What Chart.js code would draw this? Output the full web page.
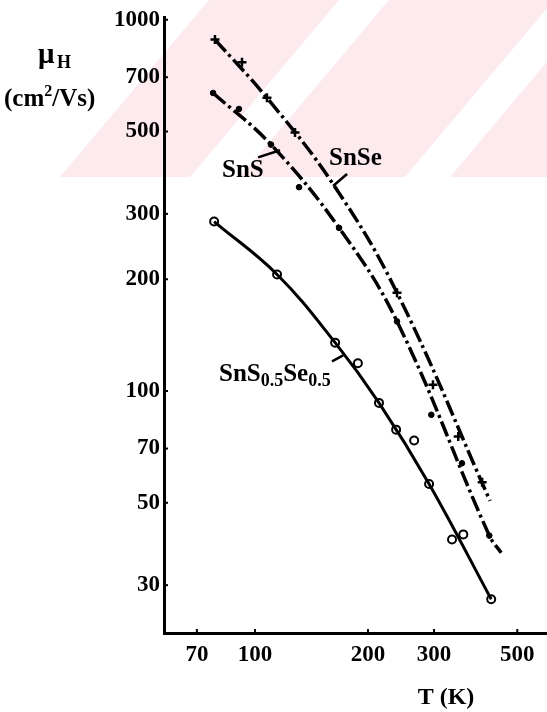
<!DOCTYPE html>
<html>
<head>
<meta charset="utf-8">
<script src="https://cdn.jsdelivr.net/npm/chart.js@4.4.1/dist/chart.umd.min.js"></script>
<style>
  html, body { margin: 0; padding: 0; background: #ffffff; }
  #wrap { width: 547px; height: 712px; position: relative; }
</style>
</head>
<body>
<div id="wrap"><canvas id="c" width="547" height="712"></canvas></div>
<script>
// ---- data (T in K, Hall mobility in cm^2/Vs) ----
// measured points (markers)
const snseT    = [78.2, 92.3, 107.6, 127.8, 239, 298, 348, 403];
const snseMu   = [884, 768, 616, 497, 184, 104, 75.4, 56.8];
const snsT     = [77.3, 90.6, 110.3, 131, 167.5, 239, 295, 356, 421];
const snsMu    = [635, 575, 461, 354, 275, 154, 86.3, 63.9, 40.8];
const mixT     = [77.8, 114.5, 163.5, 188, 214, 237.7, 265.5, 291, 335, 359, 426];
const mixMu    = [286, 206, 135, 118.8, 92.9, 78.7, 73.6, 56.2, 39.8, 41.1, 27.5];
// points read along the drawn (smoothed) curves
const snseLineT  = [78.2, 107.6, 161.4, 239, 423];
const snseLineMu = [884, 616, 361, 184, 50.6];
const snsLineT   = [77.3, 110.3, 167.5, 239, 421, 453];
const snsLineMu  = [635, 461, 275, 154, 40.8, 36.7];
const mixLineT   = [77.8, 114.5, 163.5, 214, 291, 426];
const mixLineMu  = [286, 206, 135, 92.9, 56.2, 27.5];
const xTicks  = [70, 100, 200, 300, 500];
const yTicks  = [30, 50, 70, 100, 200, 300, 500, 700, 1000];
const xRange  = [57.2, 600];
const yRange  = [22.3, 1012];

const SERIF = "'Liberation Serif', 'Times New Roman', Times, serif";
const toPts = (xs, ys) => xs.map((x, i) => ({ x: x, y: ys[i] }));

// background watermark (pink diagonal stripes in the top band)
const watermark = {
  id: 'watermark',
  beforeDraw(chart) {
    const ctx = chart.ctx;
    const W = chart.width, H = 177, S = 149;
    ctx.save();
    ctx.beginPath(); ctx.rect(0, 0, W, H); ctx.clip();
    ctx.fillStyle = '#fdeaee';
    ctx.fillRect(0, 0, W, H);
    ctx.fillStyle = '#ffffff';
    ctx.beginPath();
    ctx.moveTo(0, 0); ctx.lineTo(209, 0); ctx.lineTo(209 - S, H); ctx.lineTo(0, H); ctx.closePath(); ctx.fill();
    const bands = [[190, 240], [405, 450]];
    bands.forEach(b => {
      ctx.beginPath();
      ctx.moveTo(b[0], H); ctx.lineTo(b[1], H);
      ctx.lineTo(b[1] + S, 0); ctx.lineTo(b[0] + S, 0);
      ctx.closePath(); ctx.fill();
    });
    ctx.restore();
  }
};

function drawSub(ctx, parts, x, y) {
  let cx = x;
  parts.forEach(p => {
    ctx.font = 'bold ' + p[1] + 'px ' + SERIF;
    ctx.fillText(p[0], cx, y + p[2]);
    cx += ctx.measureText(p[0]).width;
  });
}

const decorations = {
  id: 'decorations',
  afterDraw(chart) {
    const ctx = chart.ctx;
    const xs = chart.scales.x, ys = chart.scales.y;
    const area = chart.chartArea;
    ctx.save();
    ctx.fillStyle = '#000';
    ctx.strokeStyle = '#000';
    ctx.textBaseline = 'alphabetic';
    ctx.textAlign = 'left';
    ctx.lineWidth = 2;
    yTicks.forEach(v => {
      const py = ys.getPixelForValue(v);
      ctx.beginPath(); ctx.moveTo(area.left, py); ctx.lineTo(area.left + 4, py); ctx.stroke();
    });
    xTicks.forEach(v => {
      const px = xs.getPixelForValue(v);
      ctx.beginPath(); ctx.moveTo(px, area.bottom); ctx.lineTo(px, area.bottom - 4); ctx.stroke();
    });
    // y-axis title
    ctx.font = 'bold 29px ' + SERIF;
    ctx.fillText('\u03bc', 38, 63);
    ctx.font = 'bold 18px ' + SERIF;
    ctx.fillText('H', 57, 68);
    drawSub(ctx, [['(cm', 25, 0], ['2', 16, -10], ['/Vs)', 25, 0]], 4, 106);
    // x-axis title
    ctx.font = 'bold 24px ' + SERIF;
    ctx.textAlign = 'center';
    ctx.fillText('T (K)', 446, 704);
    ctx.textAlign = 'left';
    // curve labels with leader lines (anchored in data units)
    const P = (t, m) => [xs.getPixelForValue(t), ys.getPixelForValue(m)];
    const leader = (t1, m1, t2, m2) => {
      const a = P(t1, m1), b = P(t2, m2);
      ctx.beginPath(); ctx.moveTo(a[0], a[1]); ctx.lineTo(b[0], b[1]); ctx.stroke();
    };
    ctx.lineWidth = 2.5;
    leader(175.9, 384, 161.4, 356.5);
    leader(101.9, 426, 116.6, 445);
    leader(160.4, 120.2, 171.7, 124.7);
    ctx.font = 'bold 25px ' + SERIF;
    ctx.fillText('SnSe', 329, 165);
    ctx.fillText('SnS', 222, 177);
    drawSub(ctx, [['SnS', 25, 0], ['0.5', 18, 5], ['Se', 25, 0], ['0.5', 18, 5]], 219, 381);
    ctx.restore();
  }
};

const lineDs = (label, xs, ys, dash, w) => ({
  label: label,
  data: toPts(xs, ys),
  showLine: true,
  tension: 0.4,
  borderColor: '#000',
  borderWidth: w,
  borderDash: dash,
  pointRadius: 0,
  pointHoverRadius: 0
});
const markDs = (label, xs, ys, style, r, bw, fill) => ({
  label: label,
  data: toPts(xs, ys),
  showLine: false,
  pointStyle: style,
  pointRadius: r,
  pointBorderWidth: bw,
  pointBorderColor: '#000',
  pointBackgroundColor: fill
});

new Chart(document.getElementById('c'), {
  type: 'scatter',
  data: {
    datasets: [
      lineDs('SnSe curve', snseLineT, snseLineMu, [16, 4, 3, 4], 3.5),
      lineDs('SnS curve', snsLineT, snsLineMu, [16, 4, 3, 4], 3.5),
      lineDs('SnS0.5Se0.5 curve', mixLineT, mixLineMu, [], 3),
      markDs('SnSe', snseT, snseMu, 'cross', 4.5, 2.5, '#000'),
      markDs('SnS', snsT, snsMu, 'circle', 2.8, 1, '#000'),
      markDs('SnS0.5Se0.5', mixT, mixMu, 'circle', 4, 2, '#fff')
    ]
  },
  options: {
    responsive: false,
    animation: false,
    layout: { autoPadding: false, padding: { top: 12, right: 0, bottom: 0, left: 0 } },
    plugins: { legend: { display: false }, tooltip: { enabled: false } },
    scales: {
      x: {
        type: 'logarithmic',
        min: xRange[0], max: xRange[1],
        afterBuildTicks: s => { s.ticks = xTicks.map(v => ({ value: v })); },
        afterFit: s => { s.height = 79; },
        grid: { display: true, drawOnChartArea: false, drawTicks: false },
        border: { display: true, color: '#000', width: 3 },
        ticks: {
          padding: 8,
          color: '#000',
          font: { family: SERIF, size: 23, weight: 'bold' },
          callback: v => String(v),
          maxRotation: 0, autoSkip: false
        }
      },
      y: {
        type: 'logarithmic',
        min: yRange[0], max: yRange[1],
        afterBuildTicks: s => { s.ticks = yTicks.map(v => ({ value: v })); },
        afterFit: s => { s.width = 164; },
        grid: { display: true, drawOnChartArea: false, drawTicks: false },
        border: { display: true, color: '#000', width: 3 },
        ticks: {
          padding: 4,
          color: '#000',
          font: { family: SERIF, size: 23, weight: 'bold' },
          callback: v => String(v),
          autoSkip: false
        }
      }
    }
  },
  plugins: [watermark, decorations]
});
</script>
</body>
</html>
